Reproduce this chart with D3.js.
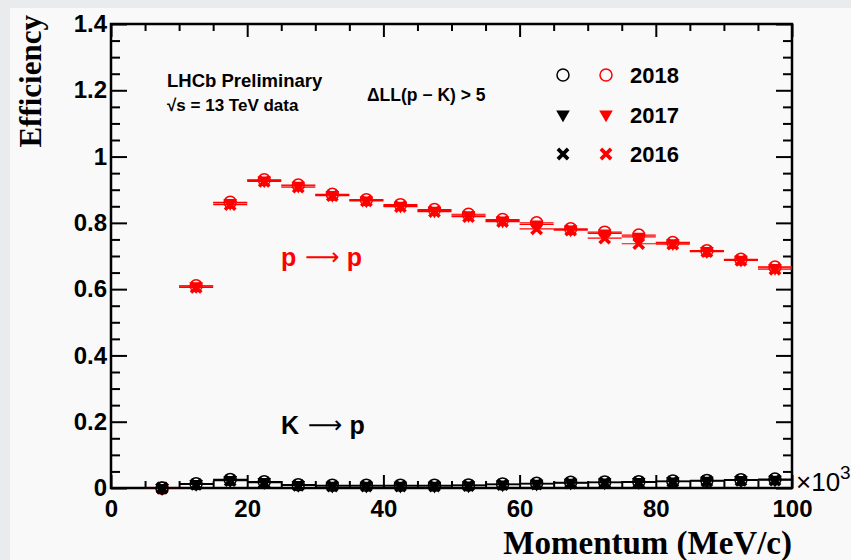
<!DOCTYPE html>
<html>
<head>
<meta charset="utf-8">
<script src="https://cdn.jsdelivr.net/npm/d3@7"></script>
<style>
  body { margin: 0; background: #e9ebec; }
  svg { display: block; }
</style>
</head>
<body>
<div class="eff_viz"></div>
<script>
// bin centres in units of 10^3 MeV/c, every bin is 5 wide
var momentum = [7.5, 12.5, 17.5, 22.5, 27.5, 32.5, 37.5, 42.5, 47.5, 52.5, 57.5, 62.5, 67.5, 72.5, 77.5, 82.5, 87.5, 92.5, 97.5];
var binHalf = 2.5;

// p -> p efficiency (red)
var pp2018 = [0.000, 0.610, 0.862, 0.930, 0.914, 0.886, 0.870, 0.855, 0.840, 0.826, 0.810, 0.800, 0.782, 0.772, 0.763, 0.741, 0.716, 0.690, 0.667];
var pp2017 = [0.000, 0.609, 0.860, 0.928, 0.912, 0.884, 0.868, 0.852, 0.837, 0.823, 0.807, 0.795, 0.780, 0.768, 0.758, 0.739, 0.715, 0.689, 0.664];
var pp2016 = [0.000, 0.605, 0.855, 0.925, 0.908, 0.882, 0.866, 0.849, 0.834, 0.819, 0.804, 0.782, 0.778, 0.754, 0.737, 0.736, 0.713, 0.687, 0.660];

// K -> p efficiency (black)
var kp2018 = [0.000, 0.013, 0.026, 0.019, 0.010, 0.008, 0.008, 0.008, 0.008, 0.009, 0.012, 0.014, 0.017, 0.018, 0.019, 0.021, 0.023, 0.025, 0.027];
var kp2017 = [0.000, 0.012, 0.024, 0.018, 0.009, 0.007, 0.007, 0.007, 0.007, 0.008, 0.011, 0.013, 0.016, 0.017, 0.018, 0.020, 0.022, 0.024, 0.025];
var kp2016 = [0.000, 0.011, 0.022, 0.016, 0.008, 0.006, 0.006, 0.006, 0.006, 0.007, 0.010, 0.012, 0.015, 0.016, 0.017, 0.019, 0.021, 0.023, 0.024];

var years = ["2018", "2017", "2016"];
var yTicks = [0, 0.2, 0.4, 0.6, 0.8, 1, 1.2, 1.4];
var xTicks = [0, 20, 40, 60, 80, 100];

var W = 851, H = 560;
var svg = d3.select(".eff_viz").append("svg")
  .attr("width", W)
  .attr("height", H);

// pad area
svg.append("rect")
  .attr("x", 10).attr("y", 8)
  .attr("width", W - 10).attr("height", H - 8)
  .attr("fill", "#f9f9f9");

var x = d3.scaleLinear().domain([0, 100]).range([111, 792]);
var y = d3.scaleLinear().domain([0, 1.4]).range([488, 24]);

var sans = "'Liberation Sans', Arial, Helvetica, sans-serif";
var serif = "'Liberation Serif', 'Times New Roman', serif";

// minor ticks
var xMinor = d3.range(0, 101, 5).filter(function(v) { return v % 20 != 0; });
var yMinor = d3.range(0, 29).map(function(i) { return i * 0.05; }).filter(function(v, i) { return i % 4 != 0; });

function tickGroup(axis, tx, ty) {
  var g = svg.append("g").attr("transform", "translate(" + tx + "," + ty + ")").call(axis);
  g.select(".domain").remove();
  g.selectAll("line").attr("stroke", "#000").attr("stroke-width", 2);
  return g;
}

// bottom
var gxb = tickGroup(d3.axisBottom(x).tickValues(xTicks).tickSize(-13).tickPadding(12).tickFormat(d3.format("d")), 0, y(0));
tickGroup(d3.axisBottom(x).tickValues(xMinor).tickSize(-7).tickFormat(""), 0, y(0));
// top
tickGroup(d3.axisTop(x).tickValues(xTicks).tickSize(-13).tickFormat(""), 0, y(1.4));
tickGroup(d3.axisTop(x).tickValues(xMinor).tickSize(-7).tickFormat(""), 0, y(1.4));
// left
var gyl = tickGroup(d3.axisLeft(y).tickValues(yTicks).tickSize(-16).tickPadding(4).tickFormat(function(d) { return d3.format("~g")(d); }), x(0), 0);
tickGroup(d3.axisLeft(y).tickValues(yMinor).tickSize(-9).tickFormat(""), x(0), 0);
// right
tickGroup(d3.axisRight(y).tickValues(yTicks).tickSize(-16).tickFormat(""), x(100), 0);
tickGroup(d3.axisRight(y).tickValues(yMinor).tickSize(-9).tickFormat(""), x(100), 0);

[gxb, gyl].forEach(function(g) {
  g.selectAll("text")
    .attr("font-family", sans)
    .attr("font-weight", "bold")
    .attr("font-size", 24)
    .attr("fill", "#000");
});

// frame
svg.append("rect")
  .attr("x", x(0)).attr("y", y(1.4))
  .attr("width", x(100) - x(0)).attr("height", y(0) - y(1.4))
  .attr("fill", "none")
  .attr("stroke", "#000")
  .attr("stroke-width", 2.5);

// x10^3 exponent
var ex = svg.append("text")
  .attr("x", 796).attr("y", 491)
  .attr("font-family", sans)
  .attr("font-size", 26)
  .attr("fill", "#000");
ex.append("tspan").text("\u00d710");
ex.append("tspan").attr("dy", -12).attr("font-size", 19).text("3");

// axis titles
svg.append("text")
  .attr("x", x(100)).attr("y", 554)
  .attr("text-anchor", "end")
  .attr("font-family", serif)
  .attr("font-weight", "bold")
  .attr("font-size", 33)
  .text("Momentum (MeV/c)");

svg.append("text")
  .attr("transform", "translate(41,15) rotate(-90)")
  .attr("text-anchor", "end")
  .attr("font-family", serif)
  .attr("font-weight", "bold")
  .attr("font-size", 31)
  .text("Efficiency");

// marker shapes per year
var triPath = d3.symbol(d3.symbolTriangle, 80)();
var xPath = d3.symbol(d3.symbolX, 70)();

function drawMarker(g, year, cx, cy, color) {
  if (year == "2018") {
    g.append("circle")
      .attr("cx", cx).attr("cy", cy).attr("r", 6)
      .attr("fill", "none")
      .attr("stroke", color)
      .attr("stroke-width", 1.5);
  } else if (year == "2017") {
    g.append("path")
      .attr("d", triPath)
      .attr("transform", "translate(" + cx + "," + cy + ") rotate(180)")
      .attr("fill", color);
  } else {
    g.append("path")
      .attr("d", xPath)
      .attr("transform", "translate(" + cx + "," + cy + ")")
      .attr("fill", "none")
      .attr("stroke", color)
      .attr("stroke-width", 3.6);
  }
}

function drawSeries(vals, year, color) {
  var g = svg.append("g");
  g.selectAll("line.herr")
    .data(momentum)
    .enter().append("line")
    .attr("x1", function(d) { return x(d - binHalf); })
    .attr("x2", function(d) { return x(d + binHalf); })
    .attr("y1", function(d, i) { return y(vals[i]); })
    .attr("y2", function(d, i) { return y(vals[i]); })
    .attr("stroke", color)
    .attr("stroke-width", 1.2);
  momentum.forEach(function(m, i) {
    drawMarker(g, year, x(m), y(vals[i]), color);
  });
}

var red = "#ff0000";
drawSeries(pp2016, "2016", red);
drawSeries(pp2017, "2017", red);
drawSeries(pp2018, "2018", red);
drawSeries(kp2016, "2016", "#000");
drawSeries(kp2017, "2017", "#000");
drawSeries(kp2018, "2018", "#000");

// labels
svg.append("text")
  .attr("x", 167).attr("y", 87)
  .attr("font-family", sans).attr("font-weight", "bold").attr("font-size", 18.5)
  .attr("fill", "#000")
  .text("LHCb Preliminary");

var rs = svg.append("text")
  .attr("x", 167).attr("y", 111)
  .attr("font-family", sans).attr("font-weight", "bold").attr("font-size", 17)
  .attr("fill", "#000");
rs.append("tspan").text("\u221As");
rs.append("tspan").text(" = 13 TeV data");

svg.append("text")
  .attr("x", 367).attr("y", 101)
  .attr("font-family", sans).attr("font-weight", "bold").attr("font-size", 17.5)
  .attr("fill", "#000")
  .text("\u0394LL(p \u2212 K) > 5");

function reaction(from, ty, color) {
  var t = svg.append("text")
    .attr("x", 281).attr("y", ty)
    .attr("font-family", sans).attr("font-weight", "bold").attr("font-size", 25)
    .attr("fill", color);
  t.append("tspan").text(from);
  t.append("tspan").attr("dx", 9).attr("dy", -1)
    .attr("font-weight", "normal").attr("font-size", 24)
    .attr("font-family", "'DejaVu Sans', sans-serif")
    .text("\u27f6");
  t.append("tspan").attr("dx", 7).attr("dy", 1).text("p");
}
reaction("p", 266, red);
reaction("K", 434, "#000");

// legend
var leg = svg.append("g");
years.forEach(function(yr, i) {
  var ly = 75 + i * 39.5;
  drawMarker(leg, yr, 563, ly, "#000");
  drawMarker(leg, yr, 606, ly, red);
  leg.append("text")
    .attr("x", 630).attr("y", ly + 8)
    .attr("font-family", sans).attr("font-weight", "bold").attr("font-size", 22)
    .attr("fill", "#000")
    .text(yr);
});
</script>
</body>
</html>
